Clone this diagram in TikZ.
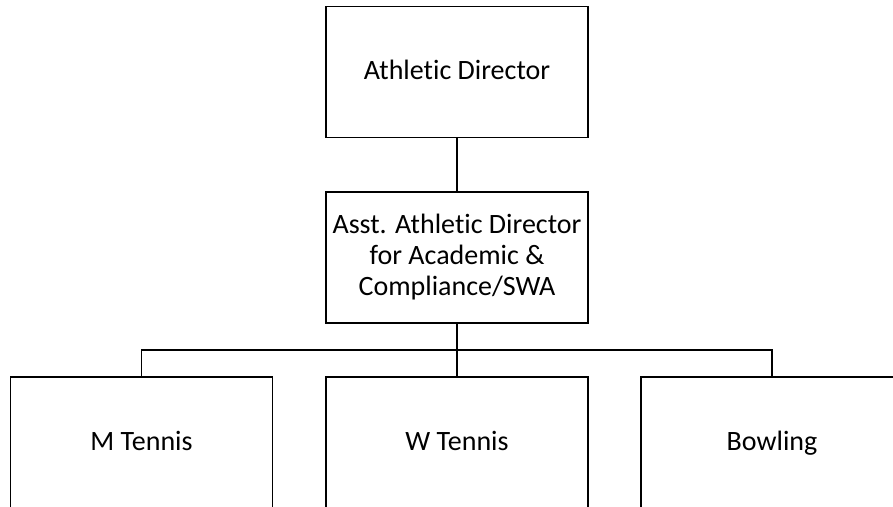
\documentclass[tikz,border=0pt]{standalone}
\usepackage{fontspec}
\setmainfont[Ligatures=NoCommon]{Carlito}
\begin{document}
\begin{tikzpicture}[x=1pt,y=1pt,
  orgbox/.style={draw=black, line width=1.8pt, fill=white, rectangle,
    minimum width=262pt, minimum height=131pt, inner sep=0pt,
    align=center, font=\fontsize{28}{31}\selectfont},
  onerow/.style={orgbox, text height=21pt, text depth=5pt},
  link/.style={draw=black, line width=1.8pt}]
\useasboundingbox (0,0) rectangle (893,506);
% top level
\node[onerow] (ad) at (457,434) {Athlet\kern0pt ic Director};
\node[orgbox] (asst) at (457,248.5) {Asst. Athlet\kern0pt ic Director\\for Academic \&\\Compliance/SWA};
% sports
\node[onerow] (mt) at (141.5,63.5) {M Tennis};
\node[onerow] (wt) at (457,63.5) {W Tennis};
\node[onerow] (bw) at (772,63.5) {Bowling};
% connectors
\coordinate (bus) at (457,156);
\draw[link] (ad) -- (asst);
\draw[link] (asst) -- (wt);
\draw[link] (mt.north) |- (bus) -| (bw.north);
\end{tikzpicture}
\end{document}
